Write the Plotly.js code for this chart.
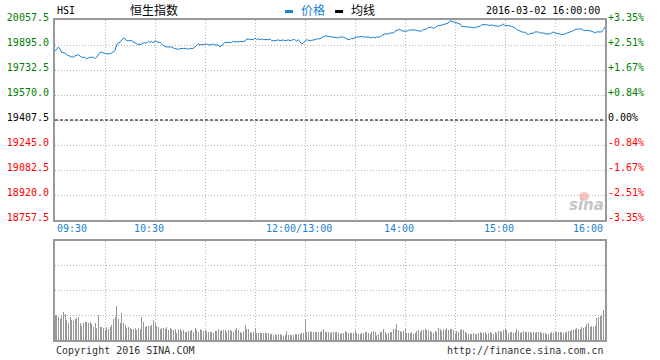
<!DOCTYPE html>
<html><head><meta charset="utf-8">
<script src="https://cdn.plot.ly/plotly-3.0.1.min.js"></script>
<style>html,body{margin:0;padding:0;background:#fff}#chart{width:660px;height:360px}</style>
</head><body><div id="chart"></div>
<script>
// ---------- data ----------
const symbol = 'HSI';
const indexName = '恒生指数';
const stamp = '2016-03-02 16:00:00';
const prevClose = 19407.5;
const priceTicks = [18757.5, 18920.0, 19082.5, 19245.0, 19407.5, 19570.0, 19732.5, 19895.0, 20057.5];
const gridMinutes = [0, 30, 60, 90, 120, 150, 180, 210, 240, 270, 300, 330];
const timeLabels = ['09:30', '10:30', '12:00/13:00', '14:00', '15:00', '16:00'];
const timeLabelMinutes = [0, 60, 150, 210, 270, 330];
const legendNames = ['价格', '均线'];

// price line: trading minute (0 = 09:30, 150 = 12:00/13:00, 330 = 16:00) and index level
const priceMinutes = [0,1,2,3,4,6,7,9,10,11,12,14,15,16,18,19,20,21,23,24,25,26,27,28,30,31,33,34,35,36,37,38,39,40,41,42,43,46,48,49,51,52,53,55,56,57,58,59,60,61,63,64,65,67,70,71,72,74,75,77,79,80,81,83,
84,85,86,87,89,91,92,94,95,96,98,99,100,101,102,106,107,108,110,112,114,115,116,118,119,120,121,122,123,124,125,128,129,130,132,134,135,137,138,140,141,143,144,145,146,147,148,149,150,151,152,154,156,157,159,160,161,162,164,166,168,
170,171,173,174,175,177,178,179,180,182,184,185,188,190,191,192,193,195,196,198,200,201,203,204,206,207,208,210,211,212,213,216,218,220,221,223,224,226,227,228,230,231,233,234,236,237,238,239,240,241,243,244,246,248,250,251,
253,255,256,257,259,261,262,263,265,266,268,269,270,272,274,276,277,279,281,282,283,284,285,287,288,290,291,293,295,297,298,299,300,302,303,305,306,308,309,311,312,314,316,317,319,321,323,324,325,328,329,330];
const priceValues = [19858,19865,19882,19869,19847,19843,19832,19821,19817,19817,19824,19832,19826,19815,19815,19804,19811,19815,19815,19806,19817,19832,19847,19847,19841,19837,19837,19843,19854,19858,19895,19910,19912,19925,19941,19934,19923,19923,19912,19902,19897,19902,19908,19908,19919,19912,19919,19908,19923,19915,19912,19902,19891,19882,19882,19876,19871,19867,19871,19873,19873,19867,19873,19873,
19882,19895,19902,19897,19897,19902,19897,19897,19902,19895,19895,19882,19893,19902,19912,19912,19919,19915,19915,19919,19919,19934,19934,19930,19930,19941,19930,19936,19930,19934,19930,19930,19934,19923,19923,19928,19923,19928,19923,19928,19923,19930,19930,19919,19930,19915,19902,19908,19919,19930,19925,19925,19930,19934,19936,19941,19947,19954,19951,19947,19947,
19941,19947,19947,19941,19934,19930,19941,19934,19947,19947,19951,19947,19947,19941,19947,19941,19947,19947,19958,19967,19967,19973,19973,19984,19995,19995,19988,19984,19984,19988,19993,19993,19986,19986,19995,19999,20010,20010,20003,20010,20021,20021,20027,20032,20038,20053,20049,20049,20045,20038,20032,20016,20012,20012,20010,20006,
20012,20016,20027,20027,20027,20021,20027,20021,20016,20016,20023,20032,20021,20021,20016,20006,19995,19984,19977,19980,19967,19962,19969,19973,19980,19980,19973,19973,19967,19967,19973,19980,19973,19967,19969,19962,19967,19973,19980,19988,19995,19999,19999,19990,19990,19988,19980,19973,19980,19980,19995,20012];

// volume per trading minute (relative units, panel full height = 99)
const volumeValues = [
24,25,23,21,24,28,26,20,17,23, 20,19,21,22,23,17,14,17,18,18, 17,18,16,13,17,12,25,13,13,12, 10,13,11,13,15,21,23,34,21,17,
27,17,15,12,13,12,11,11,12,10, 12,11,23,18,13,14,14,14,15,20, 17,14,13,11,12,12,11,13,10,12, 11,10,11,7,10,11,9,10,
8,8,9,9,10,8,12,10,8,11, 10,9,10,9,8,8,8,7,9,9, 11,9,10,10,10,8,10,10,9,8, 10,12,10,8,7,9,15,11,11,8,
7,8,12,7,7,7,7,7,7,7, 7,6,6,5,6,5,6,6,5,4, 5,9,5,5,5,5,6,6,6,6, 7,7,21,8,8,9,8,8,8,8, 8,8,9,11,8,8,8,
7,8,8,8,8,7,6,7,7,9, 8,7,7,7,7,10,7,6,6,7, 7,8,8,7,6,8,9,8,5,6, 8,8,11,8,6,7,8,8,11,11,
16,10,9,8,9,11,7,7,7,8, 6,7,9,10,8,10,10,11,10,10, 9,8,7,9,8,12,11,9,11,10, 12,10,11,11,10,7,9,8,10,11,
10,8,7,6,6,6,7,6,6,7, 8,7,7,8,6,7,8,7,6,8, 7,9,9,8,10,11,10,7,8,8, 7,8,11,9,7,8,9,8,8,8,
8,7,8,7,8,8,8,7,7,7, 6,6,7,8,7,9,8,8,8,8, 7,8,8,9,9,10,10,11,12,11, 11,13,12,13,16,17,13,14,13,14,
22,23,24,25,30,31];
const volumeMinutes = volumeValues.map((v, i) => i);

// ---------- styling ----------
const W = 660, H = 360;
const PX = x => x / W, PY = y => 1 - y / H;
const MONO = 'DejaVu Sans Mono';
const CJK = 'Noto Sans CJK SC';
const BLUE = '#1a7fd0';
const GRID = '#b4b4b4';
const BORDER = '#999999';
const upC = '#008000', dnC = '#ff0000', flatC = '#000000';
const colorFor = v => v > prevClose + 1e-9 ? upC : (v < prevClose - 1e-9 ? dnC : flatC);

const pctTicks = priceTicks.map(v => (v - prevClose) / prevClose * 100);
const pctText = pctTicks.map((p, i) => {
  const s = p > 1e-9 ? '+' : (p < -1e-9 ? '-' : '');
  return '<span style="color:' + colorFor(priceTicks[i]) + '">' + s + Math.abs(p).toFixed(2) + '%</span>';
});
const priceText = priceTicks.map(v => '<span style="color:' + colorFor(v) + '">' + v.toFixed(1) + '</span>');
const pctRange = [(priceTicks[0] - prevClose) / prevClose * 100, (priceTicks[priceTicks.length - 1] - prevClose) / prevClose * 100];

const xDom = [PX(55), PX(605)];
const traces = [
  { type: 'scatter', mode: 'lines', x: priceMinutes, y: priceValues, xaxis: 'x', yaxis: 'y',
    line: { color: BLUE, width: 1 }, hoverinfo: 'skip', name: legendNames[0] },
  { type: 'scatter', mode: 'lines', x: priceMinutes, y: priceValues.map(v => (v - prevClose) / prevClose * 100),
    xaxis: 'x', yaxis: 'y2', line: { color: 'rgba(0,0,0,0)', width: 0 }, hoverinfo: 'skip', showlegend: false },
  { type: 'bar', x: volumeMinutes, y: volumeValues, xaxis: 'x2', yaxis: 'y3', width: 0.6,
    marker: { color: '#999999', line: { width: 0 } }, hoverinfo: 'skip' }
];

const axisCommon = { showline: true, mirror: true, linecolor: BORDER, linewidth: 2, zeroline: false,
  showgrid: true, gridcolor: GRID, gridwidth: 1, griddash: '1px,2px', ticks: '', fixedrange: true };

const annotations = [];
timeLabels.forEach((t, i) => {
  const first = i === 0, last = i === timeLabels.length - 1;
  annotations.push({ text: t, x: timeLabelMinutes[i], xref: 'x', y: PY(228), yref: 'paper',
    xanchor: first ? 'left' : (last ? 'right' : 'center'), xshift: (first || last) ? 0 : -6,
    yanchor: 'middle', showarrow: false, font: { family: MONO, size: 10, color: BLUE } });
});
annotations.push({ text: symbol, x: PX(55), y: PY(10), xref: 'paper', yref: 'paper', xanchor: 'left', yanchor: 'middle',
  showarrow: false, font: { family: MONO, size: 10, color: '#000' } });
annotations.push({ text: indexName, x: PX(154), y: PY(9), xref: 'paper', yref: 'paper', xanchor: 'center', yanchor: 'middle',
  showarrow: false, font: { family: CJK, size: 12, color: '#000' } });
annotations.push({ text: legendNames[0], x: PX(299), y: PY(9.5), xref: 'paper', yref: 'paper', xanchor: 'left', yanchor: 'middle',
  showarrow: false, font: { family: CJK, size: 12, color: BLUE } });
annotations.push({ text: legendNames[1], x: PX(349), y: PY(9.5), xref: 'paper', yref: 'paper', xanchor: 'left', yanchor: 'middle',
  showarrow: false, font: { family: CJK, size: 12, color: '#000' } });
annotations.push({ text: stamp, x: PX(602), y: PY(10), xref: 'paper', yref: 'paper', xanchor: 'right', yanchor: 'middle',
  showarrow: false, font: { family: MONO, size: 10, color: '#000' } });
annotations.push({ text: '<b><i>sina</i></b>', x: PX(586), y: PY(205), xref: 'paper', yref: 'paper', xanchor: 'center', yanchor: 'middle',
  showarrow: false, font: { family: 'DejaVu Sans', size: 15, color: '#c4c4c4' } });
annotations.push({ text: 'Copyright 2016 SINA.COM', x: PX(54), y: PY(350), xref: 'paper', yref: 'paper', xanchor: 'left', yanchor: 'middle',
  showarrow: false, font: { family: MONO, size: 10, color: '#333' } });
annotations.push({ text: 'http://finance.sina.com.cn', x: PX(606), y: PY(350), xref: 'paper', yref: 'paper', xanchor: 'right', yanchor: 'middle',
  showarrow: false, font: { family: MONO, size: 10, color: '#333' } });

const shapes = [
  { type: 'line', xref: 'x domain', x0: 0, x1: 1, yref: 'y', y0: prevClose, y1: prevClose,
    line: { color: '#000', width: 1, dash: '3px,2px' } },
  { type: 'line', xref: 'paper', yref: 'paper', x0: PX(285), x1: PX(293), y0: PY(11.5), y1: PY(11.5), line: { color: BLUE, width: 3 } },
  { type: 'line', xref: 'paper', yref: 'paper', x0: PX(335), x1: PX(343), y0: PY(11.5), y1: PY(11.5), line: { color: '#000', width: 3 } },
  { type: 'circle', xref: 'paper', yref: 'paper', x0: PX(579), x1: PX(589), y0: PY(201), y1: PY(192),
    fillcolor: 'rgba(240,150,150,0.55)', line: { width: 0 } }
];

const layout = {
  width: W, height: H, margin: { l: 0, r: 0, t: 0, b: 0 },
  paper_bgcolor: '#ffffff', plot_bgcolor: '#ffffff', showlegend: false,
  font: { family: MONO, size: 10, color: '#000' },
  bargap: 0,
  xaxis: Object.assign({}, axisCommon, { domain: xDom, range: [0, 330], anchor: 'y', tickvals: gridMinutes, showticklabels: false }),
  yaxis: Object.assign({}, axisCommon, { domain: [PY(220), PY(20)], range: [priceTicks[0], priceTicks[priceTicks.length - 1]],
    tickvals: priceTicks, ticktext: priceText, tickfont: { family: MONO, size: 10 }, ticklabelshift: -3, ticklabelstandoff: 2 }),
  yaxis2: { overlaying: 'y', side: 'right', anchor: 'x', range: pctRange, tickvals: pctTicks, ticktext: pctText,
    showgrid: false, zeroline: false, showline: false, ticks: '', tickfont: { family: MONO, size: 10 }, ticklabelshift: -3, ticklabelstandoff: 2, fixedrange: true },
  xaxis2: Object.assign({}, axisCommon, { domain: xDom, range: [0, 330], anchor: 'y3', tickvals: gridMinutes, showticklabels: false }),
  yaxis3: Object.assign({}, axisCommon, { domain: [PY(340), PY(241)], range: [0, 99], tickvals: [25, 50, 75], showticklabels: false }),
  annotations: annotations,
  shapes: shapes
};

Plotly.newPlot('chart', traces, layout, { staticPlot: true, displayModeBar: false });
</script>
</body></html>
